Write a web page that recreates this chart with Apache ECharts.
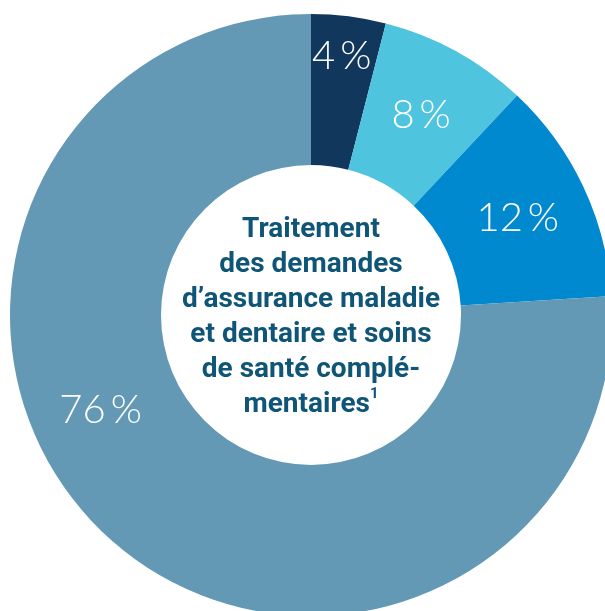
<!DOCTYPE html>
<html>
<head>
<meta charset="utf-8">
<script src="https://cdn.jsdelivr.net/npm/echarts@6/dist/echarts.min.js"></script>
<style>
  html, body { margin: 0; padding: 0; background: #ffffff; }
  #chart { width: 605px; height: 611px; }
</style>
</head>
<body>
<div id="chart"></div>
<script>
const shares = [4, 8, 12, 76];
const sliceNames = ["A", "B", "C", "D"];
const sliceColors = ["#12375c", "#4fc4de", "#0089cf", "#6399b4"];
const centerLines = [
  "Traitement",
  "des demandes",
  "d\u2019assurance maladie",
  "et dentaire et soins",
  "de sant\u00e9 compl\u00e9-",
  "mentaires{sup|1}",
];

// nudges for labels that sit away from the slice midpoint
const labelNudge = { 0: [2, -32], 3: [-54, -71] };

const chart = echarts.init(document.getElementById("chart"));

chart.setOption({
  backgroundColor: "#ffffff",
  animation: false,
  series: [
    {
      type: "pie",
      center: [311, 315],
      radius: [150, 301],
      startAngle: 90,
      clockwise: true,
      silent: true,
      itemStyle: { borderWidth: 0 },
      label: {
        show: true,
        position: "inside",
        formatter: (p) => p.value + "\u2009%",
        color: "#ffffff",
        fontFamily: "Lato",
        fontWeight: 300,
        fontSize: 40,
      },
      labelLine: { show: false },
      labelLayout: (params) => {
        const n = labelNudge[params.dataIndex];
        return n ? { dx: n[0], dy: n[1] } : {};
      },
      data: shares.map((v, i) => ({
        value: v,
        name: sliceNames[i],
        itemStyle: { color: sliceColors[i] },
      })),
    },
  ],
  graphic: [
    {
      type: "text",
      x: 311,
      y: 317,
      style: {
        text: centerLines.join("\n"),
        fill: "#0f5578",
        fontFamily: "Roboto",
        fontWeight: "bold",
        fontSize: 28,
        lineHeight: 35,
        align: "center",
        verticalAlign: "middle",
        rich: {
          sup: {
            fontFamily: "Roboto",
            fontWeight: "bold",
            fontSize: 15,
            fill: "#0f5578",
            verticalAlign: "top",
            lineHeight: 35,
          },
        },
      },
    },
  ],
});
</script>
</body>
</html>
